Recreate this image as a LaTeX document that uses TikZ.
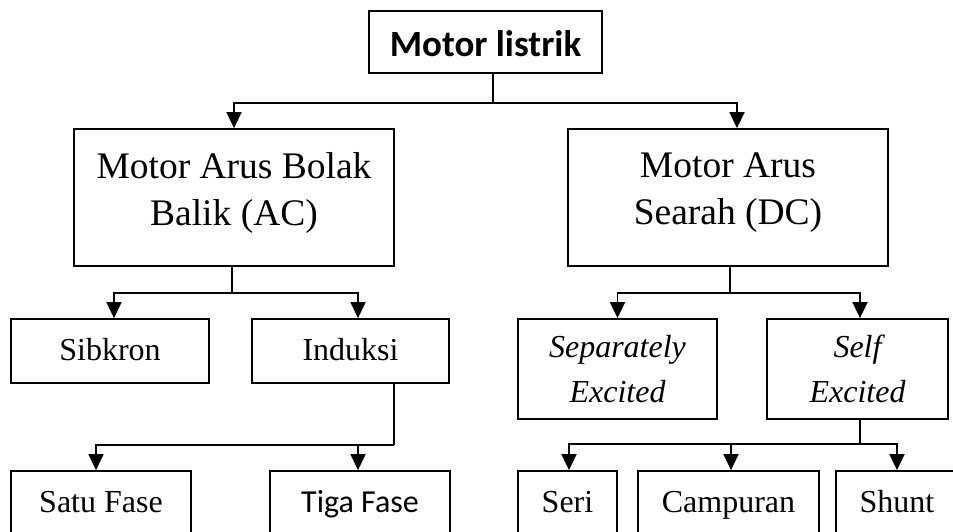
\documentclass[tikz,border=0pt]{standalone}
\usepackage{fontspec}
\setmainfont{Liberation Serif}
\newfontfamily\calibri{Carlito}
\usetikzlibrary{arrows.meta}

\begin{document}
\begin{tikzpicture}[x=1pt,y=-1pt,line width=1.8pt,
  box/.style={draw,inner sep=0pt,align=center,minimum height=64pt,text height=24pt,text depth=6pt,font=\fontsize{32}{45}\selectfont},
  italbox/.style={draw,inner sep=0pt,align=center,minimum height=100pt,font=\fontsize{32}{45}\selectfont\itshape},
  bigbox/.style={draw,inner sep=0pt,align=center,minimum width=320pt,minimum height=137pt,text depth=18pt,font=\fontsize{37.5}{47}\selectfont},
  arr/.style={-{Triangle[length=16pt,width=15pt]}}]

  \useasboundingbox (0,0) rectangle (953,532);
  \clip (0,0) rectangle (953,532);

  \node[box,minimum width=233pt,minimum height=62pt,text height=30pt,text depth=0pt,font=\calibri\bfseries\fontsize{37}{44}\selectfont] (motor) at (485.5,42) {Motor listrik};

  \node[bigbox] (ac) at (234,197.5) {Motor Arus Bolak\\Balik (AC)};
  \node[bigbox] (dc) at (728,197.5) {Motor Arus\\Searah (DC)};

  \node[box,minimum width=198pt] (sibkron) at (110,351) {Sibkron};
  \node[box,minimum width=197pt] (induksi) at (350.5,351) {Induksi};
  \node[italbox,minimum width=199pt] (separate) at (617.5,369) {Separately\\Excited};
  \node[italbox,minimum width=181pt] (self) at (857.5,369) {Self\\Excited};

  \node[box,minimum width=180pt] (satu) at (101,503) {Satu Fase};
  \node[box,minimum width=180pt] (tiga) at (360,503) {\calibri Tiga Fase};
  \node[box,minimum width=99pt] (seri) at (567.5,503) {Seri};
  \node[box,minimum width=181pt] (campuran) at (728.5,503) {Campuran};
  \node[box,minimum width=122pt] (shunt) at (897,503) {Shunt};

  % cabang
  \coordinate (j0) at (493,103);
  \coordinate (j1) at (232,293);
  \coordinate (j2) at (730,293);
  \coordinate (j3) at (394,445);
  \coordinate (j4) at (860,444);

  \draw (motor.south -| j0) -- (j0);
  \draw[arr] (j0) -| (ac.north);
  \draw[arr] (j0) -| ([xshift=9pt]dc.north);

  \draw (ac.south -| j1) -- (j1);
  \draw[arr] (j1) -| ([xshift=4pt]sibkron.north);
  \draw[arr] (j1) -| ([xshift=7.5pt]induksi.north);

  \draw (dc.south -| j2) -- (j2);
  \draw[arr] (j2) -| (separate.north);
  \draw[arr] (j2) -| ([xshift=2.5pt]self.north);

  \draw (induksi.south -| j3) -- (j3);
  \draw[arr] (j3) -| ([xshift=-5pt]satu.north);
  \draw[arr] (j3) -| ([xshift=-2pt]tiga.north);

  \draw (self.south -| j4) -- (j4);
  \draw[arr] (j4) -| ([xshift=1.5pt]seri.north);
  \draw[arr] (j4) -| ([xshift=2.5pt]campuran.north);
  \draw[arr] (j4) -| (shunt.north);

\end{tikzpicture}
\end{document}
